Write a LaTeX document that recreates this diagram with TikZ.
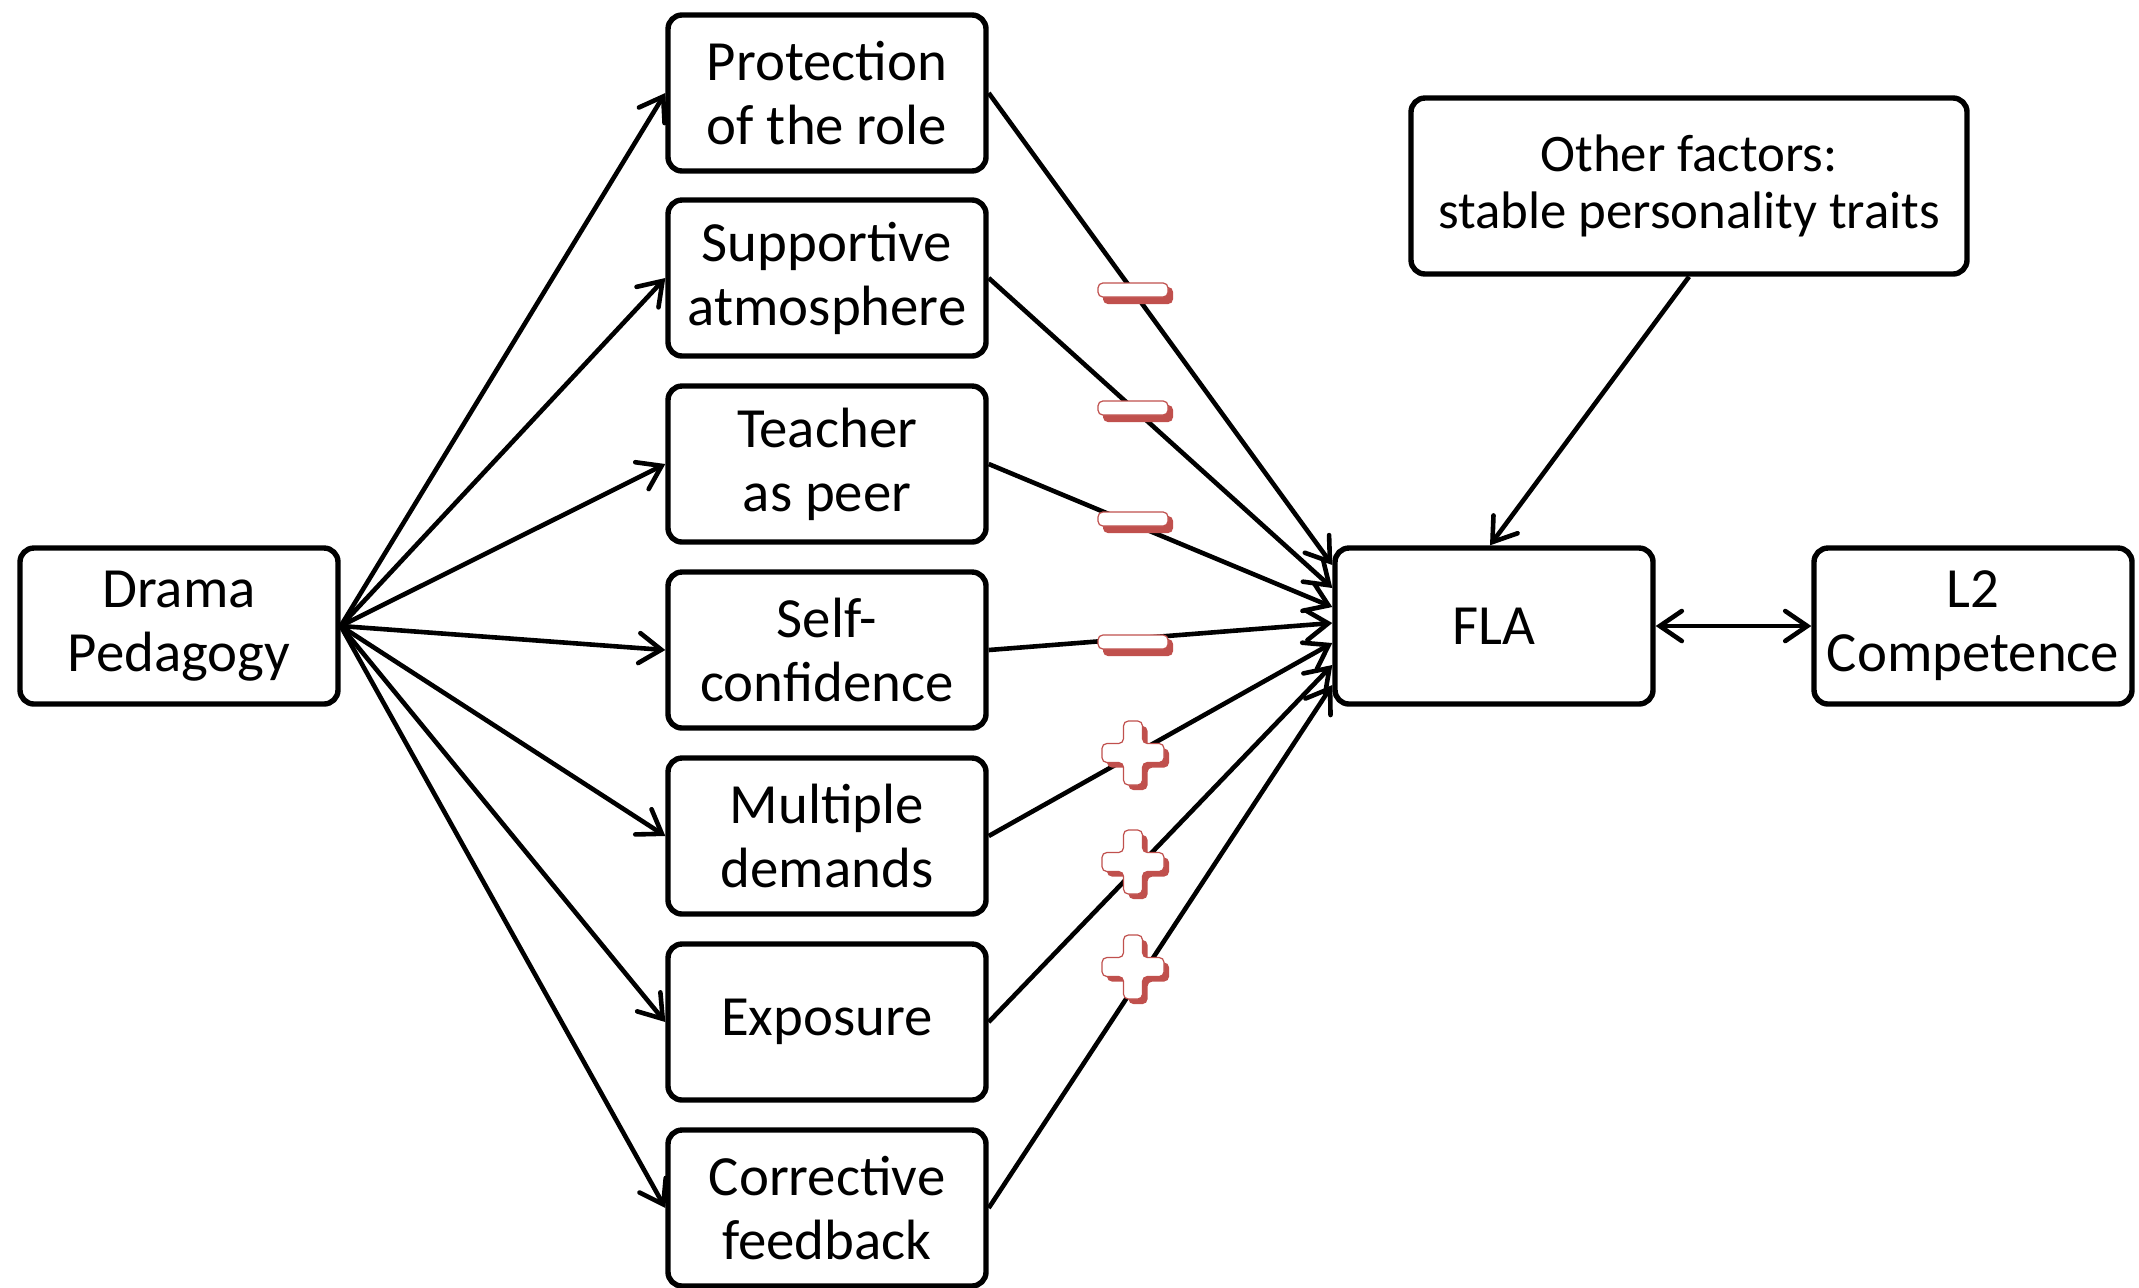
\documentclass[tikz,border=0pt]{standalone}
\usepackage{fontspec}
\setmainfont{Carlito}
\usetikzlibrary{arrows.meta}
\definecolor{signred}{HTML}{C0504D}
\begin{document}
\begin{tikzpicture}[x=0.25pt,y=-0.25pt,
  box/.style={draw=black, line width=1.35pt, rounded corners=3.5pt, fill=white,
    minimum width=79.5pt, minimum height=39pt, align=center, inner sep=1pt,
    font=\fontsize{14.2}{16}\selectfont},
  link/.style={line width=1.15pt, -{Straight Barb[length=5.5pt,width=7.5pt,line cap=round]}},
  minus sign/.pic={
    \path[fill=signred, rounded corners=1.2pt] (-30,-3) rectangle (40,14);
    \path[fill=white, draw=signred, line width=0.3pt, rounded corners=1.2pt] (-35,-7) rectangle (35,7);
  },
  plus sign/.pic={
    \path[fill=signred, rounded corners=1.2pt, shift={(5,5)}]
      (-9.5,-32) -- (9.5,-32) -- (9.5,-9.5) -- (31,-9.5) -- (31,9.5) -- (9.5,9.5) -- (9.5,32)
      -- (-9.5,32) -- (-9.5,9.5) -- (-31,9.5) -- (-31,-9.5) -- (-9.5,-9.5) -- cycle;
    \path[fill=white, draw=signred, line width=0.3pt, rounded corners=1.2pt]
      (-9.5,-32) -- (9.5,-32) -- (9.5,-9.5) -- (31,-9.5) -- (31,9.5) -- (9.5,9.5) -- (9.5,32)
      -- (-9.5,32) -- (-9.5,9.5) -- (-31,9.5) -- (-31,-9.5) -- (-9.5,-9.5) -- cycle;
  }]
\useasboundingbox (0,0) rectangle (2139,1287);

\node[box] (dp) at (179,626) {Drama\\Pedagogy};
\node[box] (b1) at (827,93) {Protection\\of the role};
\node[box] (b2) at (827,278) {Supportive\\atmosphere};
\node[box] (b3) at (827,464) {Teacher\\as peer};
\node[box] (b4) at (827,650) {Self-\\confidence};
\node[box] (b5) at (827,836) {Multiple\\demands};
\node[box] (b6) at (827,1022) {Exposure};
\node[box] (b7) at (827,1208) {Corrective\\feedback};
\node[box] (fla) at (1494,626) {FLA};
\node[box] (l2) at (1973,626) {L2\\Competence};
\node[box, minimum width=139pt, minimum height=44pt, font=\fontsize{13.2}{14.3}\selectfont] (of) at (1689,186) {Other factors:\\stable personality traits};

\foreach \i in {1,...,7} {
  \draw[link] (dp.east) -- (b\i.west);
}
\draw[link] (b1.east) -- ([yshift=15.25pt]fla.west);
\draw[link] (b2.east) -- ([yshift=9.5pt]fla.west);
\draw[link] (b3.east) -- ([yshift=4.75pt]fla.west);
\draw[link] (b4.east) -- ([yshift=0.75pt]fla.west);
\draw[link] (b5.east) -- ([yshift=-4.25pt]fla.west);
\draw[link] (b6.east) -- ([yshift=-9.75pt]fla.west);
\draw[link] (b7.east) -- ([yshift=-14.75pt]fla.west);
\draw[link] (of.south) -- ([xshift=-1pt]fla.north);
\draw[link, {Straight Barb[length=5.5pt,width=7.5pt,line cap=round]}-{Straight Barb[length=5.5pt,width=7.5pt,line cap=round]}] (fla.east) -- (l2.west);

\pic at (1133,290) {minus sign};
\pic at (1133,408) {minus sign};
\pic at (1133,519) {minus sign};
\pic at (1133,642) {minus sign};
\pic at (1133,753) {plus sign};
\pic at (1133,862) {plus sign};
\pic at (1133,967) {plus sign};
\end{tikzpicture}
\end{document}
